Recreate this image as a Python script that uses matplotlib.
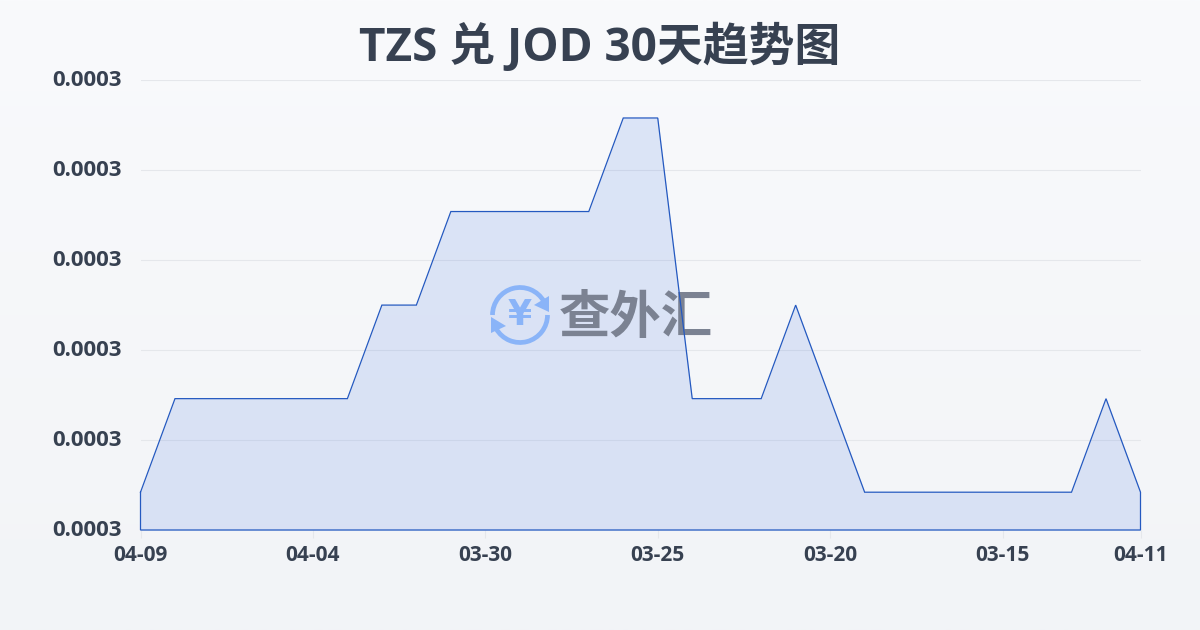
import numpy as np
import matplotlib
matplotlib.use('Agg')
import matplotlib.pyplot as plt
from matplotlib.patches import Arc, Polygon
from matplotlib.transforms import Affine2D

plt.rcParams['font.family'] = ['Open Sans', 'Noto Sans CJK SC', 'DejaVu Sans']

# 30 days of rates, newest first
rates = [0.000270, 0.000271, 0.000271, 0.000271, 0.000271, 0.000271, 0.000271,
         0.000272, 0.000272, 0.000273, 0.000273, 0.000273, 0.000273, 0.000273,
         0.000274, 0.000274, 0.000271, 0.000271, 0.000271, 0.000272, 0.000271,
         0.000270, 0.000270, 0.000270, 0.000270, 0.000270, 0.000270, 0.000270,
         0.000271, 0.000270]
tick_idx = [0, 5, 10, 15, 20, 25, 29]
tick_labels = ['04-09', '04-04', '03-30', '03-25', '03-20', '03-15', '04-11']
y_min = 0.000269596
y_max = 0.000274406
title = 'TZS 兑 JOD 30天趋势图'
watermark = '查外汇'

ink = '#374151'
line_color = '#2459c0'

fig = plt.figure(figsize=(12, 6.3), dpi=100)

# page background
bg = fig.add_axes([0, 0, 1, 1], zorder=0)
bg.imshow(np.linspace(0, 1, 256).reshape(-1, 1), aspect='auto', extent=[0, 1, 0, 1],
          cmap=matplotlib.colors.LinearSegmentedColormap.from_list('bg', ['#f9fafc', '#f2f4f7']))
bg.axis('off')

ax = fig.add_axes([140.5 / 1200, 100 / 630, 1000 / 1200, 450 / 630], zorder=1)
ax.patch.set_alpha(0)
x = np.arange(len(rates))
ax.set_xlim(0, len(rates) - 1)
ax.set_ylim(y_min, y_max)

ax.fill_between(x, rates, y_min, color='#2560e0', alpha=0.13, lw=0, zorder=2)
ax.plot(np.r_[x, x[-1], x[0], x[0]], np.r_[rates, y_min, y_min, rates[0]],
        color=line_color, lw=0.9, zorder=5, clip_on=False, solid_joinstyle='miter')

ax.set_yticks(np.linspace(y_min, y_max, 6))
ax.set_yticklabels(['%.4f' % v for v in np.linspace(y_min, y_max, 6)],
                   fontsize=16, fontweight='bold', color=ink, va='center')
ax.set_xticks(tick_idx)
ax.set_xticklabels(tick_labels, fontsize=15, fontweight='bold', color=ink)
ax.tick_params(axis='y', length=0, pad=13.5)
ax.tick_params(axis='x', length=6, width=0.8, color='#e5e7eb', pad=4.5)
ax.grid(axis='y', color='#e5e7eb', lw=0.8, zorder=1)
ax.set_axisbelow(True)
for s in ax.spines.values():
    s.set_visible(False)

# watermark drawn in pixel coordinates, under the line
pix = Affine2D().scale(1, -1).translate(0, 630)
logo = '#8ab4f8'
cx, cy = 520, 315
ax.add_patch(Arc((cx, cy), 55, 55, angle=0, theta1=-180, theta2=-30, transform=pix,
                 color=logo, lw=3.4, zorder=3, clip_on=False))
ax.add_patch(Arc((cx, cy), 55, 55, angle=0, theta1=0, theta2=150, transform=pix,
                 color=logo, lw=3.4, zorder=3, clip_on=False))
ax.add_patch(Polygon([[549, 296], [549, 312], [534, 305]], closed=True, transform=pix,
                     color=logo, lw=0, zorder=3, clip_on=False))
ax.add_patch(Polygon([[491, 317], [491, 333], [506, 326]], closed=True, transform=pix,
                     color=logo, lw=0, zorder=3, clip_on=False))
ax.text(cx, cy, '¥', transform=pix, ha='center', va='center', fontsize=25, fontweight='bold',
        family='DejaVu Sans', color=logo, zorder=3)
ax.text(636, 320, watermark, transform=pix, ha='center', va='center', fontsize=37,
        fontweight='bold', color='#7b8292', zorder=3)

fig.text(0.5, 1 - 47 / 630, title, ha='center', va='center', fontsize=33,
         fontweight='bold', color=ink)

fig.savefig('out.png', dpi=100)
